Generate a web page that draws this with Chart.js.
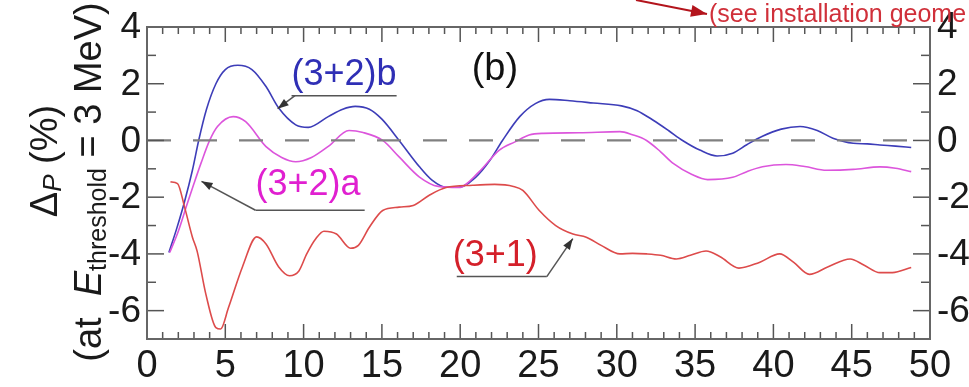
<!DOCTYPE html>
<html>
<head>
<meta charset="utf-8">
<script src="https://cdn.jsdelivr.net/npm/chart.js@4.4.1/dist/chart.umd.min.js"></script>
<style>
  body { margin: 0; background: #fff; }
  #wrap { width: 969px; height: 387px; }
</style>
</head>
<body>
<div id="wrap"><canvas id="plot" width="969" height="387"></canvas></div>
<script>
const X_MIN = 0, X_MAX = 50;
const Y_MIN = -7, Y_MAX = 4;
const xTickLabels = [0, 5, 10, 15, 20, 25, 30, 35, 40, 45, 50];
const yTickLabels = [4, 2, 0, -2, -4, -6];

// (3+2)b
const x32b = [1.4, 1.9, 2.4, 2.9, 3.3, 3.8, 4.4, 5.0, 5.8, 6.7, 7.6, 8.4, 9.5, 10.3, 11.6, 12.5, 13.3, 14.2, 15.0, 16.1,
              17.4, 18.2, 19.1, 19.9, 21.0, 21.9, 22.7, 23.8, 24.8, 25.7, 27.0, 28.5, 30.3, 31.3, 32.3, 33.3, 34.2, 35.3,
              36.4, 37.4, 38.3, 39.3, 40.5, 41.7, 42.8, 43.8, 45.1, 46.0, 46.8, 47.8, 48.8];
const y32b = [-3.95, -3.1, -2.15, -1.05, 0.0, 1.1, 2.0, 2.5, 2.65, 2.5, 1.9, 1.15, 0.55, 0.46, 0.85, 1.1, 1.2, 1.1, 0.75, 0.0,
              -0.93, -1.4, -1.65, -1.65, -1.29, -0.7, 0.0, 0.84, 1.3, 1.45, 1.4, 1.32, 1.22, 1.05, 0.72, 0.35, 0.0, -0.34,
              -0.55, -0.45, -0.15, 0.15, 0.4, 0.49, 0.35, 0.08, -0.1, -0.12, -0.16, -0.2, -0.25];

// (3+2)a
const x32a = [1.45, 2.0, 2.5, 3.0, 3.45, 4.0, 4.5, 5.5, 6.3, 7.6, 8.6, 9.5, 10.5, 11.6, 12.9, 13.8, 15.05, 16.1, 17.4, 18.6,
              19.9, 21.2, 22.5, 23.5, 24.4, 25.3, 27.6, 30.2, 31.0, 31.9, 32.8, 33.6, 34.8, 35.8, 37.4, 38.3, 39.3, 40.8,
              42.0, 43.4, 45.1, 46.8, 47.8, 48.8];
const y32a = [-3.95, -3.2, -2.35, -1.52, -0.8, 0.0, 0.49, 0.84, 0.66, -0.22, -0.6, -0.75, -0.6, -0.2, 0.35, 0.28, 0.0, -0.58, -1.29, -1.62,
              -1.66, -1.11, -0.34, -0.05, 0.19, 0.25, 0.27, 0.31, 0.2, 0.0, -0.4, -0.81, -1.2, -1.38, -1.3, -1.1, -0.93, -0.85,
              -0.92, -1.05, -1.02, -0.93, -0.98, -1.1];

// (3+1)
const x31 = [1.5, 1.95, 2.4, 2.9, 3.2, 3.75, 4.4, 4.7, 5.2, 6.1, 7.0, 7.6, 8.4, 9.1, 9.7, 10.2, 10.8, 11.3, 12.1, 13.0,
             13.5, 14.2, 15.05, 16.1, 17.0, 18.0, 19.1, 20.8, 22.2, 23.4, 24.0, 25.05, 26.1, 27.2, 28.05, 29.0, 30.2, 31.0,
             31.9, 32.8, 33.8, 34.7, 35.7, 36.6, 37.8, 39.1, 40.4, 41.3, 42.3, 43.5, 44.9, 45.8, 46.8, 47.6, 48.8];
const y31 = [-1.46, -1.52, -2.35, -3.41, -3.9, -5.4, -6.6, -6.65, -5.9, -4.45, -3.4, -3.65, -4.45, -4.77, -4.6, -4.0, -3.45, -3.2, -3.3, -3.8,
             -3.7, -3.06, -2.47, -2.35, -2.29, -1.94, -1.66, -1.58, -1.55, -1.62, -1.76, -2.47, -3.0, -3.3, -3.41, -3.7, -4.0, -3.98,
             -4.0, -4.05, -4.18, -4.05, -3.9, -4.1, -4.5, -4.3, -4.0, -4.3, -4.72, -4.45, -4.18, -4.4, -4.66, -4.66, -4.48];

const zeroX = [0, 50];
const zeroY = [0, 0];

const FONT = '"Liberation Sans", Arial, sans-serif';

// curve labels: text at (tx, ty) in data units, leader line from (ux0..ux1, uy), arrow to (ax, ay)
const notes = [
    { text: "(3+2)b", color: "#2f2fb5", tx: 9.23, ty: 1.97, ux0: 9.23, ux1: 15.94, uy: 1.58, from: 9.45, ax: 8.34, ay: 1.12 },
    { text: "(3+2)a", color: "#e020d0", tx: 6.93, ty: -1.93, ux0: 6.93, ux1: 13.9, uy: -2.46, from: 6.93, ax: 3.48, ay: -1.44 },
    { text: "(3+1)", color: "#d4202a", tx: 19.52, ty: -4.41, ux0: 19.78, ux1: 25.53, uy: -4.8, from: 25.53, ax: 27.19, ay: -3.46 }
];

function toPoints(xs, ys) {
    return xs.map(function (x, i) { return { x: x, y: ys[i] }; });
}

function line(ctx, x0, y0, x1, y1) {
    ctx.beginPath();
    ctx.moveTo(x0, y0);
    ctx.lineTo(x1, y1);
    ctx.stroke();
}

function arrow(ctx, x0, y0, x1, y1, len, half) {
    line(ctx, x0, y0, x1, y1);
    var ang = Math.atan2(y1 - y0, x1 - x0);
    ctx.beginPath();
    ctx.moveTo(x1, y1);
    ctx.lineTo(x1 - len * Math.cos(ang) + half * Math.sin(ang), y1 - len * Math.sin(ang) - half * Math.cos(ang));
    ctx.lineTo(x1 - len * Math.cos(ang) - half * Math.sin(ang), y1 - len * Math.sin(ang) + half * Math.cos(ang));
    ctx.closePath();
    ctx.fill();
}

// rotated text made of runs with their own font and baseline shift
function drawVertical(ctx, parts, cx, cy) {
    ctx.save();
    ctx.translate(cx, cy);
    ctx.rotate(-Math.PI / 2);
    ctx.textBaseline = "alphabetic";
    ctx.textAlign = "left";
    var total = 0;
    parts.forEach(function (p) { ctx.font = p.font; p.w = ctx.measureText(p.text).width; total += p.w; });
    var x = -total / 2;
    parts.forEach(function (p) {
        ctx.font = p.font;
        ctx.fillText(p.text, x, p.dy || 0);
        x += p.w;
    });
    ctx.restore();
}

const framePlugin = {
    id: "frame",
    beforeDraw: function (chart) {
        var ctx = chart.ctx;
        ctx.save();
        ctx.fillStyle = "#fff";
        ctx.fillRect(0, 0, chart.width, chart.height);
        ctx.restore();
    },
    afterDraw: function (chart) {
        var ctx = chart.ctx, a = chart.chartArea;
        var xs = chart.scales.x, ys = chart.scales.y;
        ctx.save();

        // ticks on all four sides, pointing inward
        ctx.strokeStyle = "#555";
        ctx.lineWidth = 1.5;
        for (var v = X_MIN; v <= X_MAX; v++) {
            var px = xs.getPixelForValue(v);
            var len = v % 5 == 0 ? 15 : 7;
            line(ctx, px, a.bottom, px, a.bottom - len);
            line(ctx, px, a.top, px, a.top + len);
        }
        for (var w = Y_MIN; w <= Y_MAX; w++) {
            var py = ys.getPixelForValue(w);
            var tl = w % 2 == 0 ? 17 : 9;
            line(ctx, a.left, py, a.left + tl, py);
            line(ctx, a.right, py, a.right - tl, py);
        }
        ctx.lineWidth = 2;
        ctx.strokeStyle = "#666";
        ctx.strokeRect(a.left, a.top, a.right - a.left, a.bottom - a.top);

        // tick labels
        ctx.fillStyle = "#1a1a1a";
        ctx.font = "38px " + FONT;
        ctx.textBaseline = "middle";
        ctx.textAlign = "center";
        xTickLabels.forEach(function (t) {
            ctx.fillText(String(t), xs.getPixelForValue(t), a.bottom + 28);
        });
        ctx.font = "37px " + FONT;
        ctx.textAlign = "right";
        yTickLabels.forEach(function (t) {
            ctx.fillText(String(t), a.left - 6, ys.getPixelForValue(t) + 1);
        });
        ctx.textAlign = "left";
        yTickLabels.forEach(function (t) {
            ctx.fillText(String(t), a.right + 7, ys.getPixelForValue(t) + 1);
        });

        // y axis title, two rotated lines
        ctx.fillStyle = "#1a1a1a";
        drawVertical(ctx, [
            { text: "\u0394", font: "38px " + FONT },
            { text: "P", font: "italic 26px " + FONT, dy: 4 },
            { text: " (%)", font: "38px " + FONT }
        ], 57, 161);
        drawVertical(ctx, [
            { text: "(at  ", font: "38px " + FONT },
            { text: "E", font: "italic 38px " + FONT },
            { text: "threshold", font: "25px " + FONT, dy: 5 },
            { text: " = 3 MeV)", font: "38px " + FONT }
        ], 101, 182);

        // panel tag
        ctx.textAlign = "left";
        ctx.textBaseline = "alphabetic";
        ctx.fillStyle = "#111";
        ctx.font = "38px " + FONT;
        ctx.fillText("(b)", xs.getPixelForValue(20.73), ys.getPixelForValue(2.14));

        // curve labels with leader arrows
        notes.forEach(function (n) {
            ctx.font = "36px " + FONT;
            ctx.fillStyle = n.color;
            ctx.fillText(n.text, xs.getPixelForValue(n.tx), ys.getPixelForValue(n.ty));
            ctx.strokeStyle = "#555";
            ctx.fillStyle = "#333";
            ctx.lineWidth = 1.5;
            var uy = ys.getPixelForValue(n.uy);
            line(ctx, xs.getPixelForValue(n.ux0), uy, xs.getPixelForValue(n.ux1), uy);
            arrow(ctx, xs.getPixelForValue(n.from), uy, xs.getPixelForValue(n.ax), ys.getPixelForValue(n.ay), 11, 4);
        });

        // note pointing off to the right at the top
        ctx.strokeStyle = "#b3141c";
        ctx.fillStyle = "#b3141c";
        ctx.lineWidth = 2;
        arrow(ctx, 636, 0, 707, 14, 16, 6);
        ctx.fillStyle = "#d0303a";
        ctx.font = "25px " + FONT;
        ctx.fillText("(see installation geome", 709, 22);

        ctx.restore();
    }
};

function series(xs, ys, color) {
    return {
        data: toPoints(xs, ys),
        borderColor: color,
        borderWidth: 1.6,
        pointRadius: 0,
        fill: false,
        cubicInterpolationMode: "monotone"
    };
}

window.onload = function () {
    var zero = series(zeroX, zeroY, "#808080");
    zero.borderDash = [24, 22];
    zero.borderWidth = 2.2;

    new Chart(document.getElementById("plot"), {
        type: "line",
        data: {
            datasets: [
                zero,
                series(x31, y31, "#dd4b4b"),
                series(x32a, y32a, "#dc55dc"),
                series(x32b, y32b, "#3d3db8")
            ]
        },
        options: {
            responsive: false,
            animation: false,
            devicePixelRatio: 1,
            layout: { padding: { left: 147, right: 39, top: 27, bottom: 48 } },
            plugins: { legend: { display: false }, tooltip: { enabled: false } },
            scales: {
                x: { type: "linear", min: X_MIN, max: X_MAX, display: false },
                y: { type: "linear", min: Y_MIN, max: Y_MAX, display: false }
            }
        },
        plugins: [framePlugin]
    });
};
</script>
</body>
</html>
